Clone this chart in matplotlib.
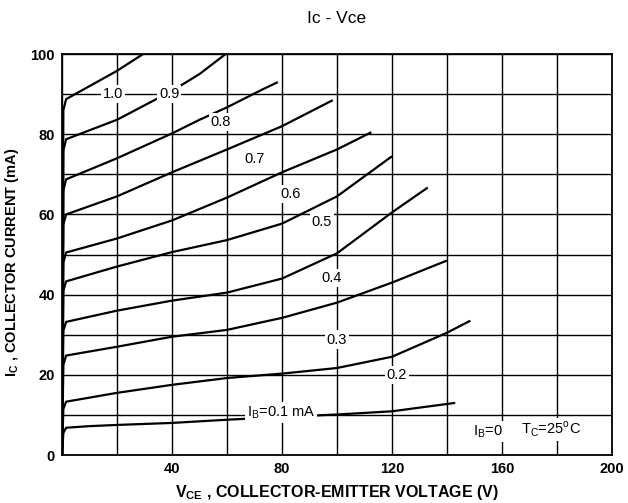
import matplotlib
matplotlib.use('Agg')
import matplotlib.pyplot as plt

plt.rcParams['font.family'] = ['Liberation Sans', 'DejaVu Sans']
plt.rcParams['mathtext.fontset'] = 'custom'
plt.rcParams['mathtext.rm'] = 'Liberation Sans'
plt.rcParams['mathtext.bf'] = 'Liberation Sans:bold'

# base current curves (Vce in V, Ic in mA)
vce_01 = [0, 0.5, 1.5, 10, 20, 40, 60, 80, 100, 120, 143]
ic_01 = [0, 5.5, 6.8, 7.2, 7.5, 8, 8.8, 9.5, 10.1, 10.9, 13]

vce_02 = [0, 0.5, 1.5, 20, 40, 60, 80, 100, 120, 140, 148.5]
ic_02 = [0, 11.5, 13.3, 15.5, 17.5, 19.2, 20.3, 21.7, 24.5, 30.5, 33.5]

vce_03 = [0, 0.5, 1.5, 20, 40, 60, 80, 100, 120, 140]
ic_03 = [0, 22.5, 24.8, 27, 29.5, 31.2, 34.2, 38, 43, 48.5]

vce_04 = [0, 0.5, 1.5, 20, 40, 60, 80, 100, 120, 133]
ic_04 = [0, 31, 33.2, 36, 38.5, 40.5, 44, 50.3, 60.5, 66.7]

vce_05 = [0, 0.5, 1.5, 20, 40, 60, 80, 100, 120]
ic_05 = [0, 41, 43.3, 47, 50.6, 53.6, 57.7, 64.5, 74.5]

vce_06 = [0, 0.5, 1.5, 20, 40, 60, 80, 100, 112.5]
ic_06 = [0, 48, 50.5, 54, 58.5, 64.2, 70.5, 76.2, 80.5]

vce_07 = [0, 0.5, 1.5, 20, 40, 60, 80, 98.5]
ic_07 = [0, 57.5, 60, 64.5, 70.5, 76.2, 82, 88.5]

vce_08 = [0, 0.5, 1.5, 20, 40, 50, 60, 73, 78.5]
ic_08 = [0, 66, 68.75, 74, 80.2, 83.6, 86.7, 91.2, 93]

vce_09 = [0, 0.5, 1.5, 20, 40, 50, 59.5]
ic_09 = [0, 76, 78.75, 83.6, 90.8, 95, 100]

vce_10 = [0, 0.5, 1.5, 20, 29.5]
ic_10 = [0, 86, 88.75, 95.8, 100]

curves = [(vce_01, ic_01), (vce_02, ic_02), (vce_03, ic_03), (vce_04, ic_04),
          (vce_05, ic_05), (vce_06, ic_06), (vce_07, ic_07), (vce_08, ic_08),
          (vce_09, ic_09), (vce_10, ic_10)]

# curve labels and where they sit
label_text = ['1.0', '0.9', '0.8', '0.7', '0.6', '0.5', '0.4', '0.3', '0.2',
              r'I$_\mathregular{B}$=0.1 mA']
label_x = [18.5, 39, 57.8, 70.2, 83, 94.5, 98, 100, 121.8, 79.6]
label_y = [90, 90, 83, 73.8, 65.2, 58.2, 44.2, 28.8, 20, 10.6]

x_ticks = list(range(0, 201, 20))
x_labels = ['', '', '40', '', '80', '', '120', '', '160', '', '200']
y_ticks = list(range(0, 101, 10))
y_labels = ['0', '', '20', '', '40', '', '60', '', '80', '', '100']

fig = plt.figure(figsize=(6.28, 5.03), dpi=100)
ax = fig.add_axes([0.0987, 0.0954, 0.8758, 0.7972])

for vce, ic in curves:
    ax.plot(vce, ic, color='black', lw=1.6, solid_capstyle='butt', zorder=3)

for t, x, y in zip(label_text, label_x, label_y):
    ax.text(x, y, t, fontsize=10.5, ha='center', va='center', zorder=4,
            bbox=dict(fc='white', ec='none', pad=1.5))

ax.text(155, 5.9, r'I$_\mathregular{B}$=0', fontsize=10.5, ha='center', va='center',
        zorder=4, bbox=dict(fc='white', ec='none', pad=1.5))
ax.text(178, 6.3, r'T$_\mathregular{C}$=25$^\mathregular{o}$C', fontsize=10.5,
        ha='center', va='center', zorder=4, bbox=dict(fc='white', ec='none', pad=1.5))

ax.set_xlim(0, 200)
ax.set_ylim(0, 100)
ax.set_xticks(x_ticks)
ax.set_xticklabels(x_labels, fontweight='bold', fontsize=10.5)
ax.set_yticks(y_ticks)
ax.set_yticklabels(y_labels, fontweight='bold', fontsize=10.5)
ax.tick_params(length=0, pad=5)
ax.grid(True, color='black', lw=1.0)
ax.set_axisbelow(True)
for s in ax.spines.values():
    s.set_linewidth(1.3)

ax.set_xlabel(r'V$_\mathbf{CE}$ , COLLECTOR-EMITTER VOLTAGE (V)', fontsize=11.5,
              fontweight='bold', labelpad=5)
ax.set_ylabel(r'I$_\mathbf{C}$ , COLLECTOR CURRENT (mA)', fontsize=10.5,
              fontweight='bold')
ax.yaxis.set_label_coords(-0.075, 0.481)
ax.set_title('Ic - Vce', fontsize=12.5, pad=22)

fig.savefig('out.png', dpi=100)
